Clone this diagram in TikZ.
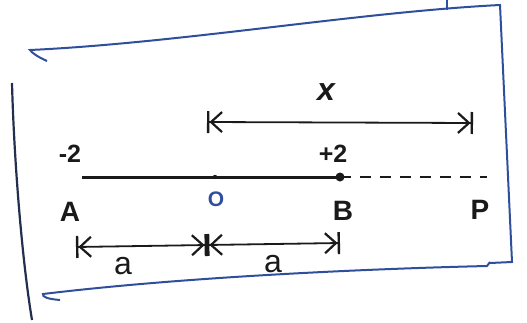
\documentclass[tikz,border=0pt]{standalone}
\usepackage{fontspec}
\setmainfont{Liberation Sans}
\usetikzlibrary{arrows.meta}
\definecolor{penblue}{HTML}{2F4F9C}
\definecolor{ink}{HTML}{1A1A1A}
\begin{document}
\begin{tikzpicture}[x=1pt,y=-1pt,
  frame/.style={penblue,line width=2pt},
  leftframe/.style={ink!60!penblue,line width=2.2pt},
  axis/.style={ink,line width=3pt},
  dim/.style={ink,line width=1.8pt,{Bar[width=22pt,line width=2.4pt]Straight Barb[length=11pt,width=20pt,line width=2.2pt]}-{Straight Barb[length=11pt,width=20pt,line width=2.2pt]Bar[width=22pt,line width=2.4pt]}},
  lbl/.style={font=\bfseries\fontsize{28}{30}\selectfont,text=ink,inner sep=1pt}]
\useasboundingbox (0,0) rectangle (527,322);
% frame
\draw[frame] (47,61) .. controls (38,57) and (32,53) .. (30,50) .. controls (180,43) and (360,12) .. (500,5) -- (512,262) -- (490,263);
\draw[frame] (447,0) -- (447,10);
\draw[leftframe] (12,83) .. controls (14,160) and (22,260) .. (32,320);
\draw[frame] (60,300) .. controls (48,299) and (42,297) .. (43,294) .. controls (200,275) and (400,268) .. (487,266) -- (490,262);
% number line
\coordinate (A0) at (82,177);
\coordinate (O0) at (215,177);
\coordinate (B0) at (340,177);
\coordinate (P0) at (487,177);
\draw[axis] (A0) -- (B0);
\fill[ink] (O0) circle (2.2pt);
\fill[ink] (B0) circle (4.5pt);
\draw[ink,line width=2.2pt,dash pattern=on 11pt off 9pt] (B0) -- (P0);
\node[lbl,font=\bfseries\fontsize{25}{27}\selectfont] (m2) at (70,154) {-2};
\node[lbl,font=\bfseries\fontsize{25}{27}\selectfont] (p2) at (333,154) {+2};
\node[lbl] (A) at (70,212) {A};
\node[lbl,text=penblue,font=\bfseries\fontsize{21}{23}\selectfont] (O) at (216,199) {O};
\node[lbl] (B) at (343,211) {B};
\node[lbl] (P) at (480,210) {P};
% top dimension
\coordinate (x1) at (207,122);
\coordinate (x2) at (473,123);
\draw[dim] (x1) -- (x2);
\node[lbl,font=\itshape\bfseries\fontsize{32}{34}\selectfont] (x) at (326,92) {x};
% bottom dimensions
\coordinate (a1) at (76,247);
\coordinate (a2) at (207,245);
\coordinate (a3) at (340,243);
\draw[dim] (a1) -- (a2);
\draw[dim] (a2) -- (a3);
\node[lbl,font=\fontsize{32}{34}\selectfont] (la1) at (123,266) {a};
\node[lbl,font=\fontsize{32}{34}\selectfont] (la2) at (273,264) {a};
\end{tikzpicture}
\end{document}
